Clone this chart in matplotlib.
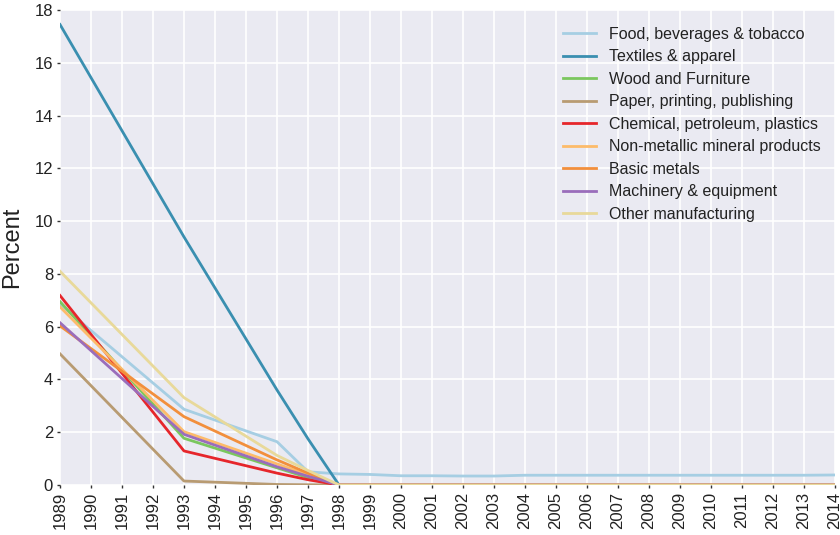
import matplotlib
matplotlib.use("Agg")
import matplotlib.pyplot as plt
import numpy as np

plt.rcParams["font.family"] = ["Liberation Sans", "DejaVu Sans"]

# data
years = [1989, 1993, 1996, 1997, 1998] + list(range(1999, 2015))
n_after = len(years) - 5

series_names = [
    "Food, beverages & tobacco",
    "Textiles & apparel",
    "Wood and Furniture",
    "Paper, printing, publishing",
    "Chemical, petroleum, plastics",
    "Non-metallic mineral products",
    "Basic metals",
    "Machinery & equipment",
    "Other manufacturing",
]

food = [6.85, 2.87, 1.64, 0.50, 0.42, 0.40, 0.35, 0.35, 0.34, 0.34, 0.37,
        0.37, 0.37, 0.37, 0.37, 0.37, 0.37, 0.37, 0.37, 0.37, 0.38]
textiles = [17.45, 9.4, 3.6, 1.75, 0.0] + [0.0] * n_after
wood = [6.95, 1.77, 0.65, 0.28, 0.0] + [0.0] * n_after
paper = [4.97, 0.15, 0.02, 0.01, 0.0] + [0.0] * n_after
chemical = [7.18, 1.29, 0.45, 0.2, 0.0] + [0.0] * n_after
nonmetal = [6.75, 2.02, 0.8, 0.38, 0.0] + [0.0] * n_after
metals = [6.03, 2.59, 0.95, 0.45, 0.0] + [0.0] * n_after
machinery = [6.15, 1.92, 0.69, 0.33, 0.0] + [0.0] * n_after
other = [8.1, 3.31, 1.12, 0.55, 0.0] + [0.0] * n_after

series_values = [food, textiles, wood, paper, chemical, nonmetal, metals,
                 machinery, other]
colors = ["#a6cee3", "#3a8fb0", "#7bc75e", "#b89b72", "#e6262b",
          "#fdbb6a", "#f28f3c", "#9a6dbb", "#e8d99a"]

fig = plt.figure(figsize=(8.4, 5.35), dpi=100)
ax = fig.add_axes([60 / 840, 50 / 535, 775 / 840, 475 / 535])
ax.set_facecolor("#eaeaf2")
for s in ax.spines.values():
    s.set_visible(False)
ax.grid(True, color="white", linewidth=1.2)
ax.set_axisbelow(True)

for name, vals, c in zip(series_names, series_values, colors):
    ax.plot(years, vals, color=c, linewidth=2, label=name)

ax.set_xlim(1989, 2014)
ax.set_ylim(0, 18)
ax.set_xticks(range(1989, 2015))
ax.set_xticklabels([str(y) for y in range(1989, 2015)], rotation=90)
ax.set_yticks(range(0, 19, 2))
ax.tick_params(labelsize=12, length=2, width=1, color="#333333",
               labelcolor="#222222", pad=3)
ax.set_ylabel("Percent", fontsize=17, color="#222222", labelpad=8)

leg = ax.legend(loc="upper right", frameon=False, fontsize=11.5,
                handlelength=2.1, handletextpad=0.8, labelspacing=0.47,
                bbox_to_anchor=(1.0, 0.995))
for t in leg.get_texts():
    t.set_color("#222222")

fig.savefig("out.png", dpi=100)
